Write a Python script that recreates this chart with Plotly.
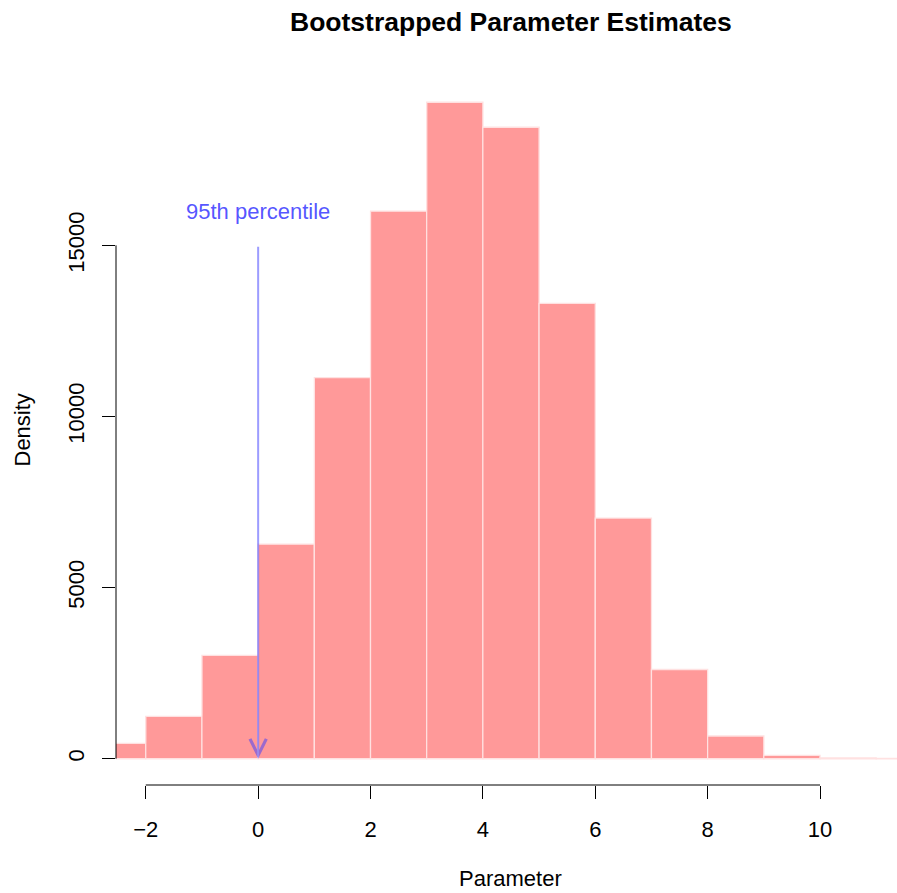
import plotly.graph_objects as go

# Histogram data (bin left edges, bin width 1)
bin_left = [-3, -2, -1, 0, 1, 2, 3, 4, 5, 6, 7, 8, 9, 10, 11]
density = [448, 1240, 3018, 6270, 11134, 15997, 19180, 18450, 13302, 7032, 2608, 665, 97, 25, 8]

x_ticks = [-2, 0, 2, 4, 6, 8, 10]
y_ticks = [0, 5000, 10000, 15000]

pct95 = 0
arrow_top = 15000

ymax = max(density)
yr = [-0.04 * ymax, 1.04 * ymax]
xr = [-2.53, 11.37]

font = "Liberation Sans, Arial, sans-serif"

fig = go.Figure()
fig.add_trace(go.Bar(
    x=bin_left, y=density, width=1, offset=0,
    marker=dict(color="rgba(255,0,0,0.4)",
                line=dict(color="rgba(255,225,225,1)", width=1.3)),
    hoverinfo="skip",
))

fig.update_layout(
    width=897, height=893,
    margin=dict(l=116, r=0, t=76, b=108),
    plot_bgcolor="white", paper_bgcolor="white",
    showlegend=False, bargap=0,
    font=dict(family=font, size=22, color="black"),
    xaxis=dict(range=xr, tickvals=x_ticks, ticktext=[("\u2212" + str(-v)) if v < 0 else str(v) for v in x_ticks],
               ticks="outside", ticklen=13, tickwidth=1, tickcolor="black",
               showgrid=False, zeroline=False, showline=False,
               ticklabelstandoff=12, tickfont=dict(size=22)),
    yaxis=dict(range=yr, tickvals=y_ticks, ticktext=[str(v) for v in y_ticks],
               ticks="outside", ticklen=13, tickwidth=1, tickcolor="black",
               showgrid=False, zeroline=False, showline=False,
               tickangle=-90, ticklabelstandoff=9, tickfont=dict(size=22)),
)

# R-style axis lines spanning only the tick range
fig.add_shape(type="line", xref="x", yref="paper", x0=x_ticks[0], x1=x_ticks[-1], y0=0, y1=0,
              line=dict(color="black", width=1))
fig.add_shape(type="line", xref="paper", yref="y", x0=0, x1=0, y0=y_ticks[0], y1=y_ticks[-1],
              line=dict(color="black", width=1))

# Arrow marking the 95th percentile
fig.add_annotation(x=pct95, y=0, ax=pct95, ay=arrow_top, xref="x", yref="y", axref="x", ayref="y",
                   showarrow=True, arrowhead=5, arrowsize=1.6, arrowwidth=2,
                   arrowcolor="rgba(60,60,255,0.5)", text="")
fig.add_annotation(x=pct95, y=arrow_top, xref="x", yref="y", yshift=34, showarrow=False,
                   xanchor="center", yanchor="middle",
                   text="95th percentile", font=dict(size=22, color="rgba(40,40,255,0.8)"))

# Titles (R plot region centre is at page x ~510)
title_x = (510.5 - 116) / 781
fig.add_annotation(xref="paper", yref="paper", x=title_x, y=1, yshift=54, showarrow=False,
                   xanchor="center", yanchor="middle",
                   text="<b>Bootstrapped Parameter Estimates</b>", font=dict(size=26.5, color="black"))
fig.add_annotation(xref="paper", yref="paper", x=title_x, y=0, yshift=-93, showarrow=False,
                   xanchor="center", yanchor="middle",
                   text="Parameter", font=dict(size=22, color="black"))
fig.add_annotation(xref="paper", yref="paper", x=0, y=0.5, xshift=-94, showarrow=False, textangle=-90,
                   xanchor="center", yanchor="middle",
                   text="Density", font=dict(size=22, color="black"))

fig.write_html("out.html",
               config={"displayModeBar": False, "staticPlot": True},
               post_script="document.body.style.margin='0';document.body.style.overflow='hidden';")
